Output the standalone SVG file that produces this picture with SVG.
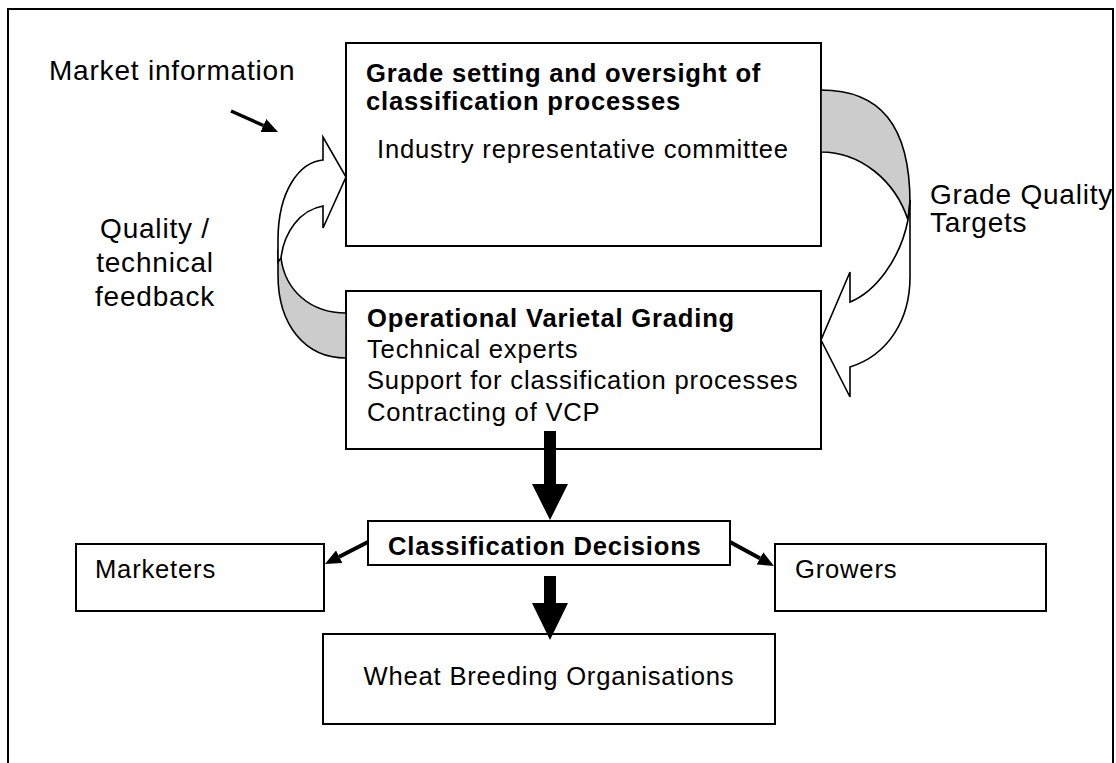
<svg xmlns="http://www.w3.org/2000/svg" width="1116" height="763" viewBox="0 0 1116 763">
  <style>
    .frame { fill: none; stroke: #000; stroke-width: 2; }
    .box { fill: #fff; stroke: #000; stroke-width: 2; }
    .t { font-family: "Liberation Sans", Arial, Helvetica, sans-serif; font-size: 25.6px; letter-spacing: 0.8px; fill: #000; }
    .b { font-weight: bold; }
    .lbl { font-size: 28px; }
    .back { fill: #cccccc; stroke: #000; stroke-width: 1.6; stroke-linejoin: round; }
    .front { fill: #fff; stroke: #000; stroke-width: 1.6; stroke-linejoin: miter; }
    .blk { fill: #000; stroke: none; }
    .thin { stroke: #000; fill: none; }
  </style>
  <defs>
    <marker id="ah" viewBox="0 0 16 14" refX="0" refY="7" markerWidth="16" markerHeight="14" markerUnits="userSpaceOnUse" orient="auto">
      <path d="M0,0 L16,7 L0,14 Z" fill="#000"/>
    </marker>
  </defs>

  <rect width="1116" height="763" fill="#fff"/>
  <!-- outer frame (open at bottom) -->
  <path class="frame" d="M8,770 V9 H1113 V770"/>

  <!-- free labels -->
  <text class="t lbl" x="49" y="80">Market information</text>
  <g class="t lbl" text-anchor="middle">
    <text x="155" y="238">Quality /</text>
    <text x="155" y="272">technical</text>
    <text x="155" y="306">feedback</text>
  </g>
  <text class="t lbl" x="930" y="204">Grade Quality</text>
  <text class="t lbl" x="930" y="232">Targets</text>

  <g id="node-grade-setting">
    <rect class="box" x="346" y="43" width="475" height="203"/>
    <text class="t b" x="366" y="82">Grade setting and oversight of</text>
    <text class="t b" x="366" y="110">classification processes</text>
    <text class="t" x="377" y="158">Industry representative committee</text>
  </g>

  <g id="node-operational">
    <rect class="box" x="346" y="291" width="475" height="158"/>
    <text class="t b" x="367" y="327">Operational Varietal Grading</text>
    <text class="t" x="367" y="358">Technical experts</text>
    <text class="t" x="367" y="389">Support for classification processes</text>
    <text class="t" x="367" y="421">Contracting of VCP</text>
  </g>

  <g id="node-decisions">
    <rect class="box" x="368" y="521" width="362" height="44"/>
    <text class="t b" x="388" y="555">Classification Decisions</text>
  </g>

  <g id="node-marketers">
    <rect class="box" x="76" y="544" width="248" height="67"/>
    <text class="t" x="95" y="578">Marketers</text>
  </g>

  <g id="node-growers">
    <rect class="box" x="775" y="544" width="271" height="67"/>
    <text class="t" x="795" y="578">Growers</text>
  </g>

  <g id="node-breeding">
    <rect class="box" x="323" y="634" width="452" height="90"/>
    <text class="t" x="549" y="685" text-anchor="middle">Wheat Breeding Organisations</text>
  </g>

  <g id="connectors">
    <!-- market information arrow -->
    <line class="thin" x1="231" y1="111" x2="263.4" y2="125.5" stroke-width="3.5" marker-end="url(#ah)"/>

    <!-- curved arrow: grade quality targets (right) -->
    <path class="back" d="M821,90 C880,90 910,125 910,203 L908,220 C895,180 860,152 821,152 Z"/>
    <path class="front" d="M910,200 L910,277 C910,320 888,355 850,367 L850,397 L821,340 L850,272 L850,302 C875,292 900,260 908,220 Z"/>

    <!-- curved arrow: quality / technical feedback (left) -->
    <path class="back" d="M278,250 L278,275 C278,325 305,358 346,358 L346,313 C310,313 285,290 281,258 Z"/>
    <path class="front" d="M278,262 L278,240 C278,190 300,162 323,160 L323,137 L346,177 L323,228 L323,206 C300,210 284,232 281,258 Z"/>

    <!-- thick block arrows -->
    <path class="blk" d="M544,431 H556 V484 H568 L550,520 L532,484 H544 Z"/>
    <path class="blk" d="M544,576 H556 V603 H568 L550,640 L532,603 H544 Z"/>

    <!-- diagonal arrows -->
    <line class="thin" x1="368" y1="542" x2="339.2" y2="556.7" stroke-width="4" marker-end="url(#ah)"/>
    <line class="thin" x1="730" y1="542" x2="759.9" y2="558.3" stroke-width="4" marker-end="url(#ah)"/>
  </g>
</svg>
